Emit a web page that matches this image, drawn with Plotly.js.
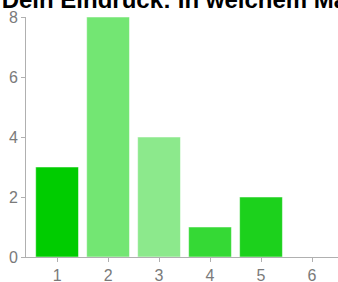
<!DOCTYPE html>
<html><head><meta charset="utf-8">
<script src="https://cdn.plot.ly/plotly-3.0.1.min.js"></script>
<style>html,body{margin:0;padding:0;background:#fff}#c{width:338px;height:282px}</style>
</head><body><div id="c"></div>
<script>
const categories = [1, 2, 3, 4, 5, 6];
const counts = [3, 8, 4, 1, 2, 0];
const barColors = ['#00cc00', '#73e673', '#8ce98c', '#35d935', '#1cd11c', '#00cc00'];
const titleText = 'Dein Eindruck: In welchem Maße';
const yTicks = [0, 2, 4, 6, 8];

Plotly.newPlot('c', [{
  type: 'bar', x: categories, y: counts, width: 0.84,
  marker: {color: barColors, line: {color: 'rgba(255,255,255,0.5)', width: 1}},
  hoverinfo: 'none'
}], {
  width: 338, height: 282,
  margin: {l: 26, r: 0, t: 17, b: 25, pad: 0},
  paper_bgcolor: '#fff', plot_bgcolor: '#fff',
  showlegend: false,
  title: {text: '<b>' + titleText + '</b>', font: {family: 'Liberation Sans, Arial, sans-serif', size: 24, color: '#000'},
    xref: 'container', x: 0.005, xanchor: 'left', yref: 'container', y: 1.0, yanchor: 'middle', pad: {t: 0, b: 0, l: 0, r: 0}},
  xaxis: {range: [0.39, 6.51], tickvals: categories, ticktext: categories.map(String),
    showline: true, linecolor: '#b0b0b0', linewidth: 1, ticks: 'outside', ticklen: 4, tickcolor: '#b0b0b0',
    showgrid: false, zeroline: false, fixedrange: true,
    tickfont: {family: 'Liberation Sans, Arial, sans-serif', size: 16, color: '#7a7a7a'}},
  yaxis: {range: [0, 8], tickvals: yTicks, showline: true, linecolor: '#b0b0b0', linewidth: 1,
    ticks: 'outside', ticklen: 4, tickcolor: '#b0b0b0', showgrid: false, zeroline: false,
    tickfont: {family: 'Liberation Sans, Arial, sans-serif', size: 16, color: '#7a7a7a'}}
}, {staticPlot: true, displayModeBar: false});
</script></body></html>
